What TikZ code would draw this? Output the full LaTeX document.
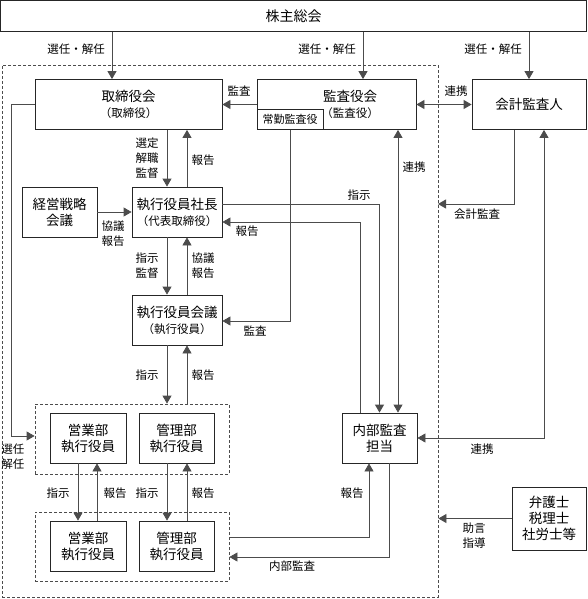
\documentclass[tikz,border=0pt]{standalone}
\usepackage{fontspec}
\setmainfont{Noto Sans CJK JP}
\usetikzlibrary{arrows.meta, positioning}
\newcommand{\titlefont}{\fontsize{13.5}{16}\selectfont}
\newcommand{\labelfont}{\fontsize{11.5}{15}\selectfont}
\newcommand{\subfont}{\fontsize{11.5}{13}\selectfont}

\begin{document}
\begin{tikzpicture}[
        x=1pt, y=-1pt, line width=0.8pt,
        box/.style={draw=black!85, align=center, inner sep=0pt, minimum width=#1, minimum height=50pt, font=\titlefont},
        box/.default=75pt,
        group/.style={draw=black!70, dash pattern=on 3pt off 2pt, inner sep=0pt},
        desc/.style={align=center, font=\labelfont, inner sep=0pt},
        arr/.style={draw=black!70, -{Triangle[length=8pt, width=9pt]}},
        arrs/.style={draw=black!70, {Triangle[length=8pt, width=9pt]}-{Triangle[length=8pt, width=9pt]}}
    ]
        \newcommand{\arr}{edge[arr]}
        \newcommand{\boxDescB}[2]{#1 \\ {\subfont （#2）}}
        \useasboundingbox (0,0) rectangle (587,599);

        \node[group, minimum width=436pt, minimum height=532pt] (kaisha) at (220,331) {};
        \node[box=586pt, minimum height=31pt, font=\fontsize{14}{16}\selectfont] (soukai) at (293.5,16) {株主総会};
        \node[box=187pt] (torishimari) at (128.5,104.5) {\boxDescB{取締役会}{取締役}};
        \node[box=159pt, label={[font=\titlefont, align=center, xshift=13.5pt]center:{\boxDescB{監査役会}{監査役}}}] (kansa) at (336.5,104.5) {};
        \node[box=66pt, minimum height=20pt, font=\fontsize{11}{13}\selectfont] (joukin) at (290,119.5) {常勤監査役};
        \node[box=114pt] (kaikei) at (529,104.5) {会計監査人};
        \node[box] (senryaku) at (59.5,212) {経営戦略\\会議};
        \node[box=90pt] (shachou) at (177,212) {\boxDescB{執行役員社長}{代表取締役}};
        \node[box=90pt] (yakuin) at (177,320) {\boxDescB{執行役員会議}{執行役員}};
        \node[box] (naibu) at (379.5,438) {内部監査\\担当};
        \node[group, minimum width=194pt, minimum height=70pt] (bumon1) at (132,439) {};
        \node[box=76pt] (eigyo1) at (88,438) {営業部\\執行役員};
        \node[box] (kanri1) at (176.5,438) {管理部\\執行役員};
        \node[group, minimum width=194pt, minimum height=69pt] (bumon2) at (132,546.5) {};
        \node[box=76pt] (eigyo2) at (88,546) {営業部\\執行役員};
        \node[box] (kanri2) at (176.5,546) {管理部\\執行役員};
        \node[box=74pt, minimum height=63pt] (senmonka) at (549,518.5) {弁護士\\税理士\\社労士等};
        \coordinate (kaikeiEnd) at (438,204);

        % labels
        \node[desc] (senninA) at (76,49) {選任・解任};
        \node[desc] (senninB) at (327,49) {選任・解任};
        \node[desc] (senninC) at (493,49) {選任・解任};
        \node[desc] (kansaA) at (239,91) {監査};
        \node[desc] (renkeiA) at (456,91) {連携};
        \node[desc] (senteiA) at (147,158) {選定\\解職\\監督};
        \node[desc] (houkokuA) at (203,160) {報告};
        \node[desc] (kyougiA) at (113,233.5) {協議\\報告};
        \node[desc] (shijiA) at (147,266) {指示\\監督};
        \node[desc] (kyougiB) at (203,266) {協議\\報告};
        \node[desc] (shijiNaibu) at (359,195) {指示};
        \node[desc] (houkokuNaibu) at (247,231) {報告};
        \node[desc] (renkeiB) at (414,167) {連携};
        \node[desc] (kansaB) at (255,331) {監査};
        \node[desc] (kaikeiA) at (477,214) {会計監査};
        \node[desc] (renkeiC) at (482,449) {連携};
        \node[desc] (shijiB) at (147,375) {指示};
        \node[desc] (houkokuB) at (203,375) {報告};
        \node[desc] (senninD) at (13,457) {選任\\解任};
        \node[desc] (shijiC) at (58,493) {指示};
        \node[desc] (houkokuC) at (115,493) {報告};
        \node[desc] (shijiD) at (147,493) {指示};
        \node[desc] (houkokuD) at (203,493) {報告};
        \node[desc] (houkokuE) at (352,493) {報告};
        \node[desc] (naibuA) at (292,566) {内部監査};
        \node[desc] (jogenA) at (474,535.5) {助言\\指導};

        \draw[arr] ([xshift=-16.5pt]torishimari.north |- soukai.south) -- ([xshift=-16.5pt]torishimari.north);
        \draw[arr] ([xshift=26.5pt]kansa.north |- soukai.south) -- ([xshift=26.5pt]kansa.north);
        \draw[arr] (kaikei.north |- soukai.south) -- (kaikei.north);
        \draw[arr] (kansa) -- (torishimari);
        \draw[arrs] (kansa) -- (kaikei);
        \path (senryaku) \arr (shachou)
            (senmonka) \arr (senmonka -| kaisha.east);
        \draw[arr] ([xshift=-10pt]shachou.north |- torishimari.south) -- ([xshift=-10pt]shachou.north);
        \draw[arr] ([xshift=10pt]shachou.north) -- ([xshift=10pt]shachou.north |- torishimari.south);
        \draw[arr] ([xshift=-10pt]shachou.south) -- ([xshift=-10pt]yakuin.north);
        \draw[arr] ([xshift=10pt]yakuin.north) -- ([xshift=10pt]shachou.south);
        \draw[arr] ([xshift=-10pt]yakuin.south) -- ([xshift=-10pt]yakuin.south |- bumon1.north);
        \draw[arr] ([xshift=10pt]yakuin.south |- bumon1.north) -- ([xshift=10pt]yakuin.south);
        \draw[arr] ([xshift=-10pt]eigyo1.south) -- ([xshift=-10pt]eigyo2.north);
        \draw[arr] ([xshift=9pt]eigyo2.north) -- ([xshift=9pt]eigyo1.south);
        \draw[arr] ([xshift=-9.5pt]kanri1.south) -- ([xshift=-9.5pt]kanri2.north);
        \draw[arr] ([xshift=10.5pt]kanri2.north) -- ([xshift=10.5pt]kanri1.south);
        \draw[arr] ([yshift=8pt]shachou.east) -| (naibu.north);
        \draw[arr] ([xshift=-19.5pt]naibu.north) |- ([yshift=-10pt]shachou.east);
        \draw[arrs] ([xshift=18.5pt]naibu.north |- kansa.south) -- ([xshift=18.5pt]naibu.north);
        \draw[arr] (joukin.south) |- ([yshift=-1pt]yakuin.east);
        \draw[arr] ([xshift=-15pt]kaikei.south) |- (kaikeiEnd);
        \draw[arrs] (naibu.east) -| ([xshift=15pt]kaikei.south);
        \draw[arr] (torishimari.west) -- ++(-23,0) |- ([yshift=3pt]bumon1.west);
        \draw[arr] ([yshift=9.5pt]bumon2.east) -| ([xshift=-10.5pt]naibu.south);
        \draw[arr] ([xshift=9.5pt]naibu.south) |- ([yshift=-10.5pt]bumon2.east);
    \end{tikzpicture}
\end{document}
